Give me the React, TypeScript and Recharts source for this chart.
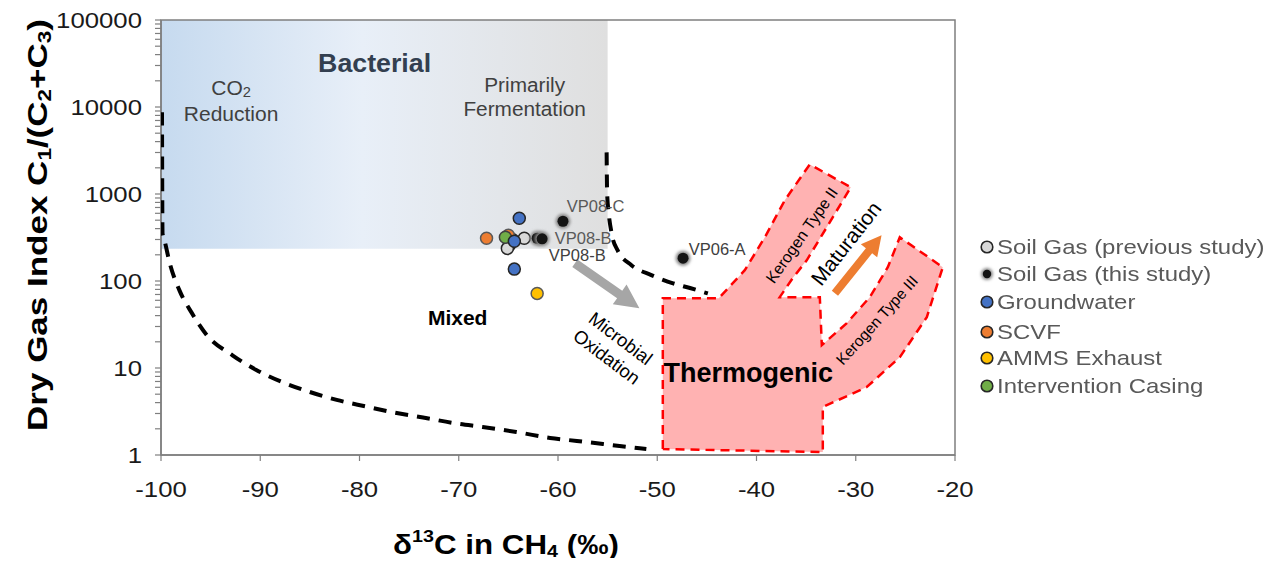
import React from 'react';
import { ComposedChart, Scatter, XAxis, YAxis, ReferenceArea, ReferenceDot, Legend } from 'recharts';

const FONT = '"Liberation Sans", Arial, Helvetica, sans-serif';

// axis ticks
const xTicks = [-100, -90, -80, -70, -60, -50, -40, -30, -20];
const yLabelTicks = [1, 10, 100, 1000, 10000, 100000];
const yTicks: number[] = [];
for (let d = 1; d < 100000; d *= 10) for (let m = 1; m < 10; m++) yTicks.push(d * m);
yTicks.push(100000);

// samples: x = d13C of CH4 (permil), y = C1/(C2+C3)
const soilGasPrev = [
  { x: -63.4, y: 310 },
  { x: -64.6, y: 300 },
  { x: -64.9, y: 257 },
  { x: -65.1, y: 237 },
];
const soilGasThis = [
  { x: -59.5, y: 486 },
  { x: -62.1, y: 310 },
  { x: -61.6, y: 305 },
  { x: -47.4, y: 183 },
];
const groundwater = [
  { x: -63.9, y: 526 },
  { x: -64.4, y: 287 },
  { x: -64.4, y: 137 },
];
const scvf = [
  { x: -67.2, y: 310 },
  { x: -65.0, y: 336 },
];
const ammsExhaust = [{ x: -62.1, y: 72 }];
const interventionCasing = [{ x: -65.3, y: 318 }];

// boundary of the mixed field (lower / left branch)
const mixedLower = [
  { x: -99.9, y: 8700 }, { x: -99.88, y: 1640 }, { x: -99.85, y: 354 }, { x: -99.65, y: 294 },
  { x: -99.14, y: 164 }, { x: -98.14, y: 78 }, { x: -96.9, y: 43 }, { x: -95.4, y: 24 },
  { x: -92.8, y: 14 }, { x: -90.4, y: 9.5 }, { x: -87.8, y: 6.9 }, { x: -85.0, y: 5.3 },
  { x: -82.3, y: 4.3 }, { x: -79.3, y: 3.6 }, { x: -76.7, y: 3.1 }, { x: -73.6, y: 2.7 },
  { x: -70.2, y: 2.3 }, { x: -67.6, y: 2.1 }, { x: -64.2, y: 1.84 }, { x: -60.8, y: 1.57 },
  { x: -58.1, y: 1.45 }, { x: -53.8, y: 1.27 }, { x: -51.1, y: 1.17 },
];
// boundary of the mixed field (upper / right branch)
const mixedUpper = [
  { x: -55.1, y: 3010 }, { x: -55.05, y: 1020 }, { x: -54.9, y: 617 }, { x: -54.6, y: 354 },
  { x: -54.0, y: 226 }, { x: -52.6, y: 152 }, { x: -50.6, y: 117 }, { x: -48.4, y: 94 },
  { x: -46.7, y: 83 }, { x: -44.9, y: 72 },
];
// thermogenic field with kerogen type II / III branches (closed outline)
const thermogenicOutline = [
  { x: -49.44, y: 1.17 }, { x: -49.44, y: 63.4 }, { x: -43.8, y: 63.4 }, { x: -41.18, y: 133 },
  { x: -39.16, y: 318 }, { x: -37.15, y: 847 }, { x: -34.63, y: 2190 }, { x: -30.5, y: 1194 },
  { x: -32.92, y: 415 }, { x: -34.94, y: 173 }, { x: -36.35, y: 108 }, { x: -37.66, y: 65.2 },
  { x: -33.62, y: 65.2 }, { x: -33.42, y: 18.3 }, { x: -30.9, y: 32.8 }, { x: -28.58, y: 65.2 },
  { x: -26.77, y: 144 }, { x: -25.56, y: 318 }, { x: -21.23, y: 144 }, { x: -22.84, y: 38.4 },
  { x: -25.56, y: 13.3 }, { x: -28.89, y: 6.04 }, { x: -33.32, y: 3.56 }, { x: -33.32, y: 1.08 },
  { x: -49.44, y: 1.17 },
];
const oxidationArrow = [{ x: -58.3, y: 160 }, { x: -51.8, y: 48.7 }];
const maturationArrow = [{ x: -32.1, y: 72.4 }, { x: -27.4, y: 336 }];

const legendNames = [
  'Soil Gas (previous study)',
  'Soil Gas (this study)',
  'Groundwater',
  'SCVF',
  'AMMS Exhaust',
  'Intervention Casing',
];
const legendFills = ['#d9d9d9', '#141414', '#4472c4', '#ed7d31', '#ffc000', '#70ad47'];

// text stretched horizontally along its own direction
function SText({ x, y, size, sx = 1, angle = 0, anchor = 'middle', weight = 400, fill = '#000', lines, lh = 0, children }: any) {
  const rows = lines || [children];
  return (
    <g transform={`translate(${x},${y}) rotate(${angle}) scale(${sx},1)`}>
      {rows.map((r: any, i: number) => (
        <text
          key={i}
          x={0}
          y={(i - (rows.length - 1) / 2) * lh}
          textAnchor={anchor}
          dominantBaseline="central"
          fontSize={size}
          fontWeight={weight}
          fill={fill}
          fontFamily={FONT}
        >
          {r}
        </text>
      ))}
    </g>
  );
}

const note = (key: string, x: number, y: number, props: any) => (
  <ReferenceDot
    key={key}
    x={x}
    y={y}
    r={0}
    ifOverflow="visible"
    shape={(p: any) => <SText x={p.cx} y={p.cy} {...props} />}
  />
);

function Arrow(props: any) {
  const { points, color, shaft, head, headLen } = props;
  if (!points || points.length < 2) return null;
  const [a, b] = points;
  const len = Math.hypot(b.x - a.x, b.y - a.y);
  const ux = (b.x - a.x) / len;
  const uy = (b.y - a.y) / len;
  const nx = -uy;
  const ny = ux;
  const bx = b.x - ux * headLen;
  const by = b.y - uy * headLen;
  const pts = [
    [a.x + nx * shaft, a.y + ny * shaft],
    [bx + nx * shaft, by + ny * shaft],
    [bx + nx * head, by + ny * head],
    [b.x, b.y],
    [bx - nx * head, by - ny * head],
    [bx - nx * shaft, by - ny * shaft],
    [a.x - nx * shaft, a.y - ny * shaft],
  ];
  return <polygon points={pts.map((q) => q.join(',')).join(' ')} fill={color} />;
}

const noMark = () => <g />;
const ringDot = (fill: string, stroke: string) => (p: any) => (
  <circle cx={p.cx} cy={p.cy} r={6} fill={fill} stroke={stroke} strokeWidth={1.5} />
);
const softDot = (p: any) => (
  <g>
    <circle cx={p.cx} cy={p.cy} r={7.5} fill="#8c8c8c" filter="url(#softHalo)" />
    <circle cx={p.cx} cy={p.cy} r={5.5} fill="#141414" />
  </g>
);

const renderYTick = (p: any) =>
  yLabelTicks.includes(p.payload.value) ? (
    <SText x={p.x} y={p.y} anchor="end" size={22} sx={1.17} fill="#1a1a1a">
      {p.payload.value}
    </SText>
  ) : (
    <g />
  );

const renderXTick = (p: any) => (
  <SText x={p.x} y={p.y + 20} size={22} sx={1.17} fill="#1a1a1a">
    {p.payload.value}
  </SText>
);

const XTitle = (p: any) => {
  const vb = p.viewBox || { x: 153, y: 447, width: 794 };
  return (
    <g transform={`translate(${vb.x + vb.width / 2 - 52},${vb.y + 90}) scale(1.16,1)`}>
      <text textAnchor="middle" dominantBaseline="central" fontSize={27} fontWeight={700} fill="#000" fontFamily={FONT}>
        δ<tspan fontSize={17} dy={-9}>13</tspan>
        <tspan dy={9}>C in CH</tspan>
        <tspan fontSize={17} dy={6}>4</tspan>
        <tspan dy={-6}> (‰)</tspan>
      </text>
    </g>
  );
};

const YTitle = (p: any) => {
  const vb = p.viewBox || { x: 60, y: 12, height: 435 };
  return (
    <g transform={`translate(${vb.x - 30.5},${vb.y + vb.height / 2 - 12.5}) rotate(-90) scale(1.25,1)`}>
      <text textAnchor="middle" dominantBaseline="central" fontSize={28} fontWeight={700} fill="#000" fontFamily={FONT}>
        Dry Gas Index C<tspan fontSize={18} dy={7}>1</tspan>
        <tspan dy={-7}>/(C</tspan>
        <tspan fontSize={18} dy={7}>2</tspan>
        <tspan dy={-7}>+C</tspan>
        <tspan fontSize={18} dy={7}>3</tspan>
        <tspan dy={-7}>)</tspan>
      </text>
    </g>
  );
};

const legendRowY = [9, 36, 64, 94, 120, 148];

const renderLegend = () => (
  <div style={{ position: 'relative', width: 300, height: 160, fontFamily: FONT }}>
    {legendNames.map((name, i) => (
      <div key={name} style={{ position: 'absolute', left: 0, top: legendRowY[i] - 12, height: 24, display: 'flex', alignItems: 'center' }}>
        <svg width={18} height={18} style={{ overflow: 'visible' }}>
          {i === 1 ? (
            <g>
              <circle cx={9} cy={9} r={6} fill="#8c8c8c" filter="url(#softHalo)" />
              <circle cx={9} cy={9} r={4.2} fill="#141414" />
            </g>
          ) : (
            <circle cx={9} cy={9} r={5.8} fill={legendFills[i]} stroke="#262626" strokeWidth={1.6} />
          )}
        </svg>
        <span
          style={{
            marginLeft: 1,
            fontSize: 21,
            color: '#595959',
            whiteSpace: 'nowrap',
            display: 'inline-block',
            transform: 'scaleX(1.14)',
            transformOrigin: 'left center',
          }}
        >
          {name}
        </span>
      </div>
    ))}
  </div>
);

export default function App() {
  return (
    <div style={{ width: 1264, height: 558, marginBottom: -8, overflow: 'hidden', position: 'relative' }}>
      <svg width={0} height={0} style={{ position: 'absolute' }}>
        <defs>
          <linearGradient id="bactGrad" x1="0" x2="1" y1="0" y2="0">
            <stop offset="0%" stopColor="#c6daef" />
            <stop offset="45%" stopColor="#e8eff8" />
            <stop offset="100%" stopColor="#dfdfdf" />
          </linearGradient>
          <filter id="softHalo" x="-50%" y="-50%" width="200%" height="200%">
            <feGaussianBlur stdDeviation="1.4" />
          </filter>
        </defs>
      </svg>
      <ComposedChart width={1256} height={558} margin={{ top: 12, right: 309, bottom: 51, left: 60 }}>
        <XAxis
          type="number"
          dataKey="x"
          domain={[-100, -20]}
          ticks={xTicks}
          interval={0}
          allowDataOverflow
          height={60}
          tickSize={6}
          tickMargin={8}
          axisLine={{ stroke: '#7f7f7f', strokeWidth: 1.5 }}
          tickLine={{ stroke: '#7f7f7f', strokeWidth: 1.2 }}
          tick={renderXTick}
          label={{ content: XTitle }}
        />
        <YAxis
          type="number"
          dataKey="y"
          scale="log"
          domain={[1, 100000]}
          ticks={yTicks}
          interval={0}
          allowDataOverflow
          width={93}
          tickSize={6}
          tickMargin={13}
          axisLine={{ stroke: '#7f7f7f', strokeWidth: 1.5 }}
          tickLine={{ stroke: '#7f7f7f', strokeWidth: 1.2 }}
          tick={renderYTick}
          label={{ content: YTitle }}
        />
        <ReferenceArea x1={-100} x2={-55} y1={235} y2={100000} fill="url(#bactGrad)" fillOpacity={1} stroke="none" />

        <Scatter
          data={thermogenicOutline}
          shape={noMark}
          line={{ fill: '#ffb2b2', stroke: '#ff0000', strokeWidth: 2.5, strokeDasharray: '9 6' }}
          lineJointType="linear"
          legendType="none"
          isAnimationActive={false}
        />
        <Scatter
          data={mixedLower}
          shape={noMark}
          line={{ stroke: '#000', strokeWidth: 4, strokeDasharray: '13 9', fill: 'none' }}
          lineJointType="monotoneX"
          legendType="none"
          isAnimationActive={false}
        />
        <Scatter
          data={mixedUpper}
          shape={noMark}
          line={{ stroke: '#000', strokeWidth: 4, strokeDasharray: '13 9', fill: 'none' }}
          lineJointType="monotoneX"
          legendType="none"
          isAnimationActive={false}
        />
        <Scatter
          data={oxidationArrow}
          shape={noMark}
          line={<Arrow color="#a6a6a6" shaft={4.5} head={12} headLen={24} />}
          legendType="none"
          isAnimationActive={false}
        />
        <Scatter
          data={maturationArrow}
          shape={noMark}
          line={<Arrow color="#ed7d31" shaft={4} head={10.5} headLen={20} />}
          legendType="none"
          isAnimationActive={false}
        />

        <Scatter name={legendNames[0]} data={soilGasPrev} shape={ringDot('#d9d9d9', '#262626')} isAnimationActive={false} />
        <Scatter name={legendNames[1]} data={soilGasThis} shape={softDot} isAnimationActive={false} />
        <Scatter name={legendNames[3]} data={scvf} shape={ringDot('#ed7d31', '#595959')} isAnimationActive={false} />
        <Scatter name={legendNames[5]} data={interventionCasing} shape={ringDot('#70ad47', '#404040')} isAnimationActive={false} />
        <Scatter name={legendNames[2]} data={groundwater} shape={ringDot('#4472c4', '#262626')} isAnimationActive={false} />
        <Scatter name={legendNames[4]} data={ammsExhaust} shape={ringDot('#ffc000', '#595959')} isAnimationActive={false} />

        {note('bact', -78.48, 31660, { size: 25, sx: 1.07, weight: 700, fill: '#333f50', children: 'Bacterial' })}
        {note('co2', -92.94, 11900, {
          size: 20,
          sx: 1.05,
          fill: '#404040',
          lh: 26,
          lines: [
            <>
              CO<tspan fontSize={14} dy={5}>2</tspan>
            </>,
            'Reduction',
          ],
        })}
        {note('ferm', -63.36, 12900, { size: 20, sx: 1.04, fill: '#404040', lh: 24, lines: ['Primarily', 'Fermentation'] })}
        {note('mixed', -70.11, 38.4, { size: 21, weight: 700, children: 'Mixed' })}
        {note('oxid', -54.39, 17.15, { size: 18.5, angle: 37, lh: 23, lines: ['Microbial', 'Oxidation'] })}
        {note('thermo', -40.83, 8.74, { size: 27, weight: 700, children: 'Thermogenic' })}
        {note('k2', -35.44, 335.6, { size: 16, angle: -55, children: 'Kerogen Type II' })}
        {note('k3', -27.87, 35.5, { size: 15.5, angle: -48, children: 'Kerogen Type III' })}
        {note('mat', -30.99, 271.6, { size: 21, angle: -52, children: 'Maturation' })}
        {note('vp08c', -59.12, 722, { size: 16.5, anchor: 'start', fill: '#595959', children: 'VP08-C' })}
        {note('vp08b1', -60.33, 310, { size: 16.5, anchor: 'start', fill: '#595959', children: 'VP08-B' })}
        {note('vp08b2', -60.93, 198, { size: 16.5, anchor: 'start', fill: '#404040', children: 'VP08-B' })}
        {note('vp06a', -46.83, 231.8, { size: 16.5, anchor: 'start', fill: '#404040', children: 'VP06-A' })}

        <ReferenceArea x1={-100} x2={-20} y1={1} y2={100000} fill="none" stroke="#7f7f7f" strokeWidth={1.5} />
        <Legend
          layout="vertical"
          align="center"
          verticalAlign="middle"
          wrapperStyle={{ left: 970, top: 230, width: 300 }}
          content={renderLegend}
        />
      </ComposedChart>
    </div>
  );
}
